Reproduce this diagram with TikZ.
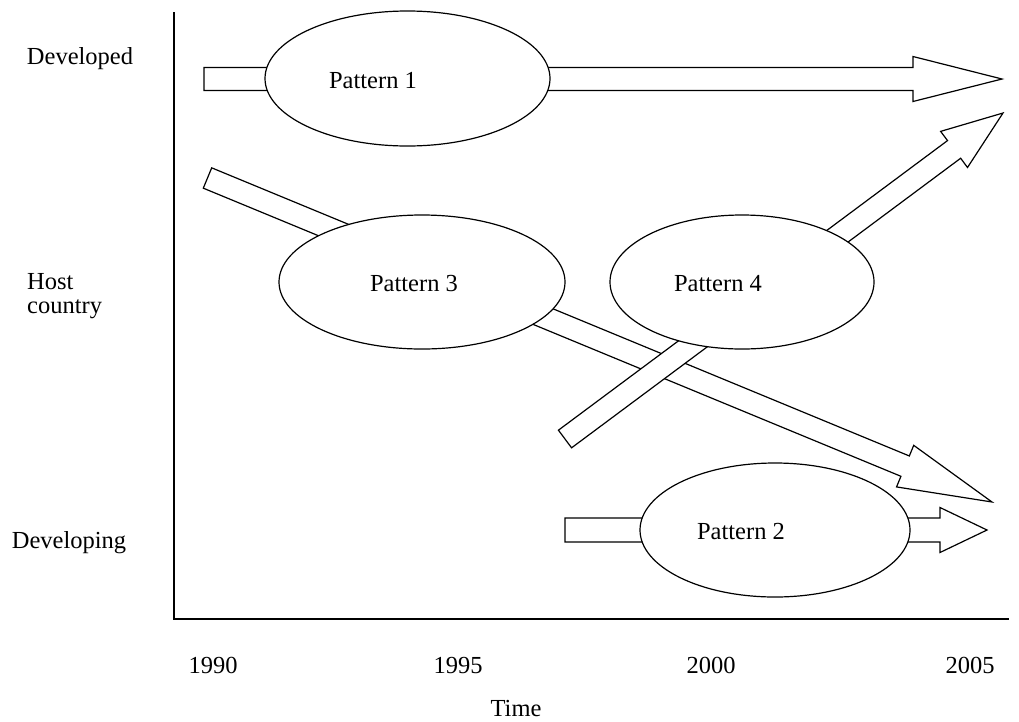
\documentclass[tikz,border=0pt]{standalone}
\usepackage{fontspec}
\setmainfont{Liberation Serif}
\usetikzlibrary{calc,shapes.geometric}
\tikzset{
  blk/.style={draw=black,fill=white,line width=1.2pt,line join=miter},
  patt/.style={ellipse,draw=black,fill=white,line width=1.2pt,inner sep=0pt},
  lbl/.style={font=\fontsize{24.5}{24}\selectfont,inner sep=0pt},
  axisline/.style={draw=black,line width=2pt}
}
% #1 tail, #2 tip, #3 half shaft width, #4 half head width, #5 head length
\newcommand\blockarr[5]{%
  \coordinate (hb) at ($(#2)!#5!(#1)$);
  \filldraw[blk] ($(#1)!#3!90:(#2)$) -- ($(hb)!#3!-90:(#1)$) -- ($(hb)!#4!-90:(#1)$)
    -- (#2) -- ($(hb)!#4!90:(#1)$) -- ($(hb)!#3!90:(#1)$) -- ($(#1)!#3!-90:(#2)$) -- cycle;
}
\begin{document}
\begin{tikzpicture}[x=1pt,y=-1pt]
\useasboundingbox[fill=white] (0,0) rectangle (1019,721);

% axes
\coordinate (ytop) at (174,12);
\coordinate (orig) at (174,619);
\coordinate (xend) at (1009,619);
\draw[axisline] (ytop) -- (orig) -- (xend);

% arrow end points
\coordinate (a1s) at (204,79);   \coordinate (a1e) at (1002,79);
\coordinate (a2s) at (565,530);  \coordinate (a2e) at (987,530);
\coordinate (a3s) at (207.5,178);\coordinate (a3e) at (992,502);
\coordinate (a4s) at (565,439);  \coordinate (a4e) at (1003,113);

\blockarr{a3s}{a3e}{11pt}{22.5pt}{94pt}
\blockarr{a4s}{a4e}{11pt}{22.5pt}{61pt}
\blockarr{a1s}{a1e}{11.5pt}{22.5pt}{89pt}
\blockarr{a2s}{a2e}{12pt}{22.5pt}{47pt}

% patterns
\node[patt,minimum width=285pt,minimum height=135pt] (p1) at (407.5,78.5) {};
\node[patt,minimum width=286pt,minimum height=134pt] (p3) at (422,282) {};
\node[patt,minimum width=264pt,minimum height=134pt] (p4) at (742,282) {};
\node[patt,minimum width=270pt,minimum height=134pt] (p2) at (775,530) {};

\node[lbl,anchor=base] (t1) at (373,88) {Pattern 1};
\node[lbl,anchor=base] (t3) at (414,291) {Pattern 3};
\node[lbl,anchor=base] (t4) at (718,291) {Pattern 4};
\node[lbl,anchor=base] (t2) at (741,539) {Pattern 2};

% axis labels
\node[lbl,anchor=base] (dev) at (80,64) {Developed};
\node[lbl,anchor=base west,align=left] (host) at (27,313) {Host\\[0pt]country};
\node[lbl,anchor=base] (dvg) at (69,548) {Developing};

\node[lbl,anchor=base] (y90) at (213,673) {1990};
\node[lbl,anchor=base] (y95) at (458,673) {1995};
\node[lbl,anchor=base] (y00) at (711,673) {2000};
\node[lbl,anchor=base] (y05) at (970,673) {2005};
\node[lbl,anchor=base] (time) at (516,716) {Time};
\end{tikzpicture}
\end{document}
